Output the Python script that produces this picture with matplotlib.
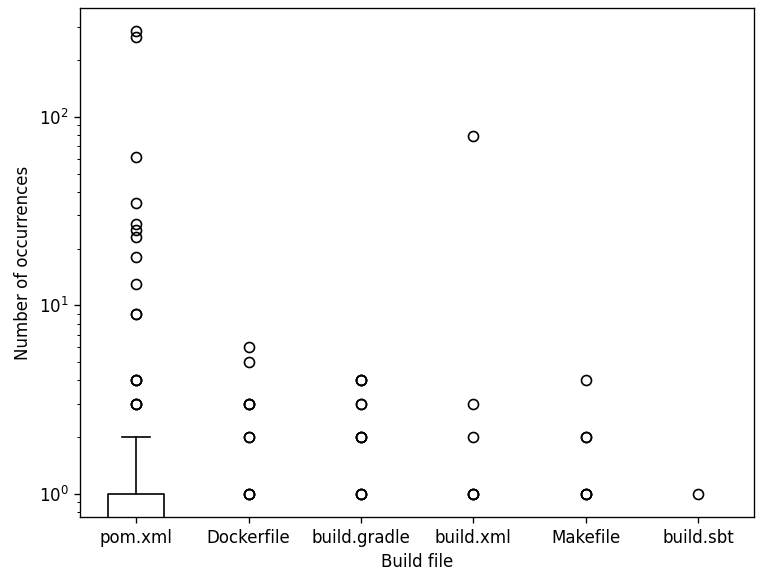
import matplotlib
matplotlib.use("Agg")
import matplotlib.pyplot as plt

build_files = ["pom.xml", "Dockerfile", "build.gradle", "build.xml", "Makefile", "build.sbt"]

# occurrences per project (zeros included, they sit below the log axis)
pom_xml = [0] * 60 + [1] * 30 + [2] * 6 + [3, 3, 3, 4, 4, 4, 9, 9, 13, 18, 23, 25, 27, 35, 61, 265, 285]
dockerfile = [0] * 60 + [1, 1, 1, 2, 2, 3, 3, 3, 5, 6]
build_gradle = [0] * 60 + [1, 1, 1, 2, 2, 2, 3, 3, 4, 4, 4]
build_xml = [0] * 60 + [1, 1, 1, 2, 3, 79]
makefile = [0] * 60 + [1, 1, 1, 2, 2, 4]
build_sbt = [0] * 60 + [1]

data = [pom_xml, dockerfile, build_gradle, build_xml, makefile, build_sbt]

fig, ax = plt.subplots(figsize=(764 / 120, 570 / 120), dpi=120)
ax.boxplot(data, tick_labels=build_files)
ax.set_yscale("log")
ax.set_xlabel("Build file")
ax.set_ylabel("Number of occurrences")
plt.subplots_adjust(left=0.105, right=0.987, top=0.986, bottom=0.093)
plt.savefig("out.png")
